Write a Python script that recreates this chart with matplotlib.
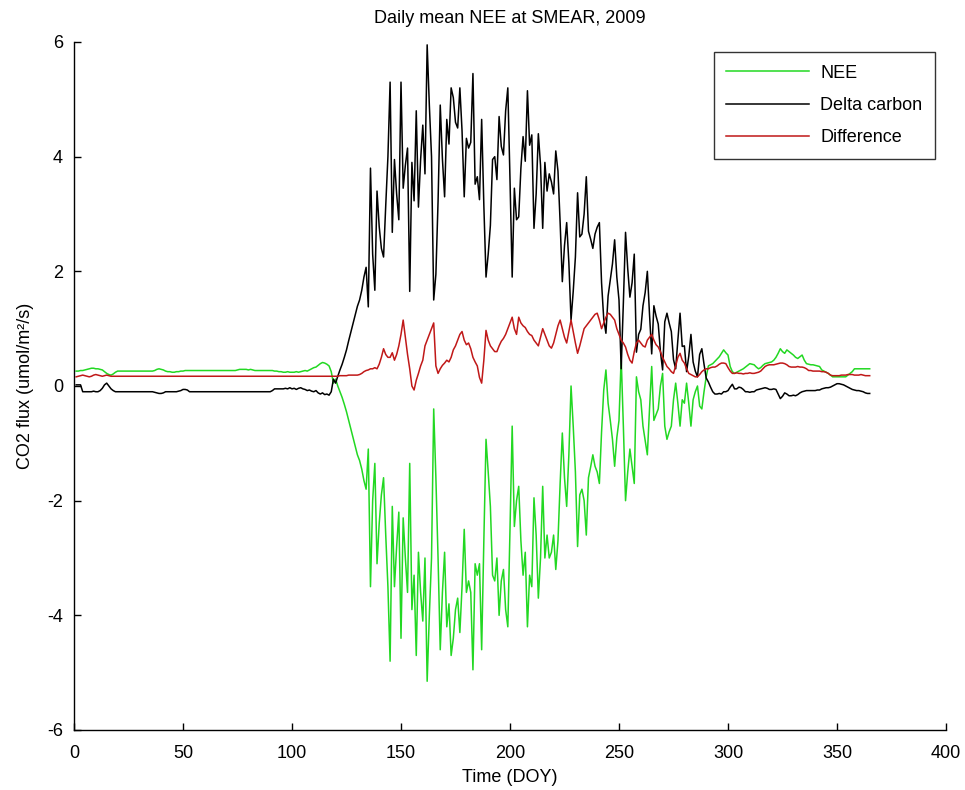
import numpy as np
import matplotlib
matplotlib.use("Agg")
import matplotlib.pyplot as plt

# ---------------- data (daily values, DOY 1..365) ----------------
nee = [
    0.26, 0.26, 0.27, 0.27, 0.28, 0.29, 0.30, 0.31, 0.31, 0.30,
    0.30, 0.29, 0.28, 0.25, 0.22, 0.20, 0.19, 0.21, 0.24, 0.26,
    0.26, 0.26, 0.26, 0.26, 0.26, 0.26, 0.26, 0.26, 0.26, 0.26,
    0.26, 0.26, 0.26, 0.26, 0.26, 0.26, 0.27, 0.29, 0.30, 0.29,
    0.28, 0.26, 0.25, 0.25, 0.24, 0.24, 0.25, 0.25, 0.26, 0.26,
    0.27, 0.27, 0.27, 0.27, 0.27, 0.27, 0.27, 0.27, 0.27, 0.27,
    0.27, 0.27, 0.27, 0.27, 0.27, 0.27, 0.27, 0.27, 0.27, 0.27,
    0.27, 0.27, 0.27, 0.27, 0.28, 0.29, 0.29, 0.29, 0.29, 0.28,
    0.29, 0.28, 0.27, 0.27, 0.27, 0.27, 0.27, 0.27, 0.27, 0.27,
    0.27, 0.26, 0.26, 0.25, 0.25, 0.24, 0.24, 0.25, 0.24, 0.24,
    0.24, 0.25, 0.24, 0.25, 0.26, 0.27, 0.26, 0.28, 0.30, 0.32,
    0.33, 0.36, 0.39, 0.41, 0.40, 0.38, 0.35, 0.25, 0.05, 0.12,
    0.00, -0.10, -0.20, -0.32, -0.45, -0.60, -0.75, -0.90, -1.05, -1.20,
    -1.30, -1.45, -1.65, -1.80, -1.10, -3.50, -2.00, -1.35, -3.10, -2.40,
    -1.90, -1.60, -2.60, -3.50, -4.80, -2.10, -3.50, -2.80, -2.20, -4.40,
    -2.30, -3.00, -3.60, -1.35, -3.90, -3.30, -4.70, -2.90, -3.60, -4.10,
    -3.00, -5.15, -4.00, -3.00, -0.40, -1.60, -3.00, -4.60, -3.60, -2.90,
    -4.20, -3.80, -4.70, -4.40, -3.90, -3.70, -4.30, -3.50, -2.50, -3.60,
    -3.40, -3.60, -4.95, -3.10, -3.30, -3.10, -4.60, -2.70, -0.93, -1.50,
    -2.10, -3.30, -3.40, -3.00, -4.00, -3.40, -3.20, -3.90, -4.20, -2.50,
    -0.70, -2.45, -2.00, -1.75, -2.70, -3.30, -2.90, -4.20, -3.30, -3.50,
    -1.95, -2.60, -3.70, -3.00, -1.75, -3.00, -2.60, -3.00, -2.90, -2.60,
    -3.20, -2.70, -1.70, -0.82, -1.60, -2.10, -1.20, 0.00, -0.70, -1.50,
    -2.80, -1.90, -1.80, -2.00, -2.60, -1.60, -1.41, -1.20, -1.40, -1.50,
    -1.70, -0.80, -0.07, 0.28, -0.30, -0.60, -0.93, -1.40, -0.90, -0.60,
    0.50, -0.70, -2.00, -1.50, -1.10, -1.40, -1.70, 0.16, -0.10, -0.24,
    -0.70, -0.95, -1.20, -0.40, 0.34, -0.60, -0.50, -0.40, 0.00, 0.22,
    -0.70, -0.93, -0.80, -0.70, -0.24, 0.05, -0.30, -0.70, -0.24, -0.30,
    0.05, -0.30, -0.70, -0.24, -0.10, 0.00, -0.35, -0.40, -0.10, 0.16,
    0.35, 0.37, 0.39, 0.43, 0.47, 0.51, 0.57, 0.63, 0.58, 0.54,
    0.34, 0.25, 0.22, 0.24, 0.26, 0.28, 0.30, 0.33, 0.36, 0.39,
    0.38, 0.37, 0.33, 0.30, 0.32, 0.36, 0.39, 0.40, 0.41, 0.42,
    0.45, 0.50, 0.57, 0.65, 0.60, 0.57, 0.63, 0.60, 0.57, 0.54,
    0.50, 0.48, 0.51, 0.54, 0.45, 0.39, 0.38, 0.37, 0.37, 0.36,
    0.35, 0.34, 0.28, 0.26, 0.24, 0.22, 0.19, 0.16, 0.16, 0.16,
    0.16, 0.16, 0.16, 0.16, 0.19, 0.22, 0.25, 0.30, 0.30, 0.30,
    0.30, 0.30, 0.30, 0.30, 0.30,
]

delta_carbon = [
    0.02, 0.02, 0.02, -0.10, -0.10, -0.10, -0.10, -0.10, -0.09, -0.10,
    -0.10, -0.08, -0.04, 0.02, 0.05, 0.00, -0.05, -0.08, -0.10, -0.10,
    -0.10, -0.10, -0.10, -0.10, -0.10, -0.10, -0.10, -0.10, -0.10, -0.10,
    -0.10, -0.10, -0.10, -0.10, -0.10, -0.10, -0.11, -0.12, -0.13, -0.13,
    -0.12, -0.10, -0.10, -0.10, -0.10, -0.10, -0.10, -0.09, -0.08, -0.06,
    -0.06, -0.07, -0.10, -0.10, -0.10, -0.10, -0.10, -0.10, -0.10, -0.10,
    -0.10, -0.10, -0.10, -0.10, -0.10, -0.10, -0.10, -0.10, -0.10, -0.10,
    -0.10, -0.10, -0.10, -0.10, -0.10, -0.10, -0.10, -0.10, -0.10, -0.10,
    -0.10, -0.10, -0.10, -0.10, -0.10, -0.10, -0.10, -0.10, -0.10, -0.10,
    -0.08, -0.05, -0.05, -0.05, -0.05, -0.05, -0.04, -0.05, -0.03, -0.05,
    -0.04, -0.06, -0.04, -0.03, -0.05, -0.06, -0.08, -0.07, -0.09, -0.10,
    -0.08, -0.12, -0.14, -0.12, -0.15, -0.14, -0.16, -0.10, 0.12, 0.05,
    0.17, 0.28, 0.38, 0.50, 0.63, 0.79, 0.94, 1.09, 1.24, 1.39,
    1.50, 1.67, 1.90, 2.07, 1.38, 3.80, 2.30, 1.67, 3.40, 2.78,
    2.40, 2.25, 3.15, 4.00, 5.30, 2.68, 3.95, 3.35, 2.90, 5.30,
    3.45, 3.85, 4.15, 1.65, 3.90, 3.23, 4.80, 3.12, 3.95, 4.55,
    3.70, 5.95, 4.90, 4.00, 1.50, 1.95, 3.22, 4.90, 3.96, 3.30,
    4.65, 4.22, 5.20, 5.03, 4.60, 4.50, 5.20, 4.45, 3.30, 4.32,
    4.15, 4.25, 5.45, 3.52, 3.65, 3.25, 4.65, 3.15, 1.90, 2.30,
    2.80, 3.95, 4.00, 3.60, 4.70, 4.18, 4.03, 4.80, 5.20, 3.60,
    1.90, 3.45, 2.90, 2.95, 3.80, 4.35, 3.92, 5.15, 4.20, 4.38,
    2.75, 3.35, 4.40, 3.85, 2.75, 3.90, 3.40, 3.70, 3.56, 3.35,
    4.10, 3.75, 2.85, 1.82, 2.45, 2.85, 2.15, 1.15, 1.65, 2.25,
    3.37, 2.60, 2.65, 3.00, 3.65, 2.70, 2.56, 2.40, 2.65, 2.77,
    2.85, 1.80, 1.17, 0.92, 1.57, 1.85, 2.13, 2.55, 1.90, 1.50,
    0.30, 1.45, 2.68, 2.05, 1.55, 1.80, 2.30, 0.59, 0.90, 0.99,
    1.40, 1.63, 2.00, 1.25, 0.56, 1.40, 1.22, 1.08, 0.60, 0.28,
    1.12, 1.27, 1.10, 0.95, 0.46, 0.30, 0.80, 1.27, 0.69, 0.70,
    0.25, 0.52, 0.90, 0.42, 0.26, 0.16, 0.55, 0.65, 0.38, 0.14,
    0.07, -0.02, -0.10, -0.14, -0.14, -0.13, -0.14, -0.10, -0.10, -0.08,
    -0.02, 0.03, -0.05, -0.05, -0.02, -0.03, -0.06, -0.10, -0.10, -0.11,
    -0.10, -0.10, -0.07, -0.06, -0.05, -0.04, -0.03, -0.04, -0.06, -0.06,
    -0.05, -0.06, -0.14, -0.22, -0.18, -0.12, -0.14, -0.17, -0.17, -0.16,
    -0.17, -0.15, -0.12, -0.10, -0.09, -0.08, -0.08, -0.08, -0.08, -0.08,
    -0.07, -0.07, -0.05, -0.04, -0.03, -0.03, -0.02, 0.00, 0.02, 0.04,
    0.04, 0.03, 0.02, 0.00, -0.02, -0.04, -0.06, -0.07, -0.08, -0.08,
    -0.09, -0.10, -0.12, -0.13, -0.13,
]

difference = [
    0.16, 0.17, 0.18, 0.19, 0.18, 0.17, 0.16, 0.17, 0.19, 0.20,
    0.19, 0.18, 0.17, 0.18, 0.19, 0.18, 0.17, 0.17, 0.17, 0.17,
    0.17, 0.17, 0.17, 0.17, 0.17, 0.17, 0.17, 0.17, 0.17, 0.17,
    0.17, 0.17, 0.17, 0.17, 0.17, 0.17, 0.17, 0.17, 0.17, 0.17,
    0.17, 0.17, 0.17, 0.17, 0.17, 0.17, 0.17, 0.17, 0.17, 0.17,
    0.17, 0.17, 0.17, 0.17, 0.17, 0.17, 0.17, 0.17, 0.17, 0.17,
    0.17, 0.17, 0.17, 0.17, 0.17, 0.17, 0.17, 0.17, 0.17, 0.17,
    0.17, 0.17, 0.17, 0.17, 0.17, 0.17, 0.17, 0.17, 0.17, 0.17,
    0.17, 0.17, 0.17, 0.17, 0.17, 0.17, 0.17, 0.17, 0.17, 0.17,
    0.17, 0.17, 0.17, 0.17, 0.17, 0.17, 0.17, 0.17, 0.17, 0.17,
    0.17, 0.17, 0.17, 0.17, 0.17, 0.17, 0.17, 0.17, 0.17, 0.17,
    0.17, 0.17, 0.17, 0.17, 0.17, 0.17, 0.17, 0.17, 0.17, 0.17,
    0.17, 0.18, 0.18, 0.18, 0.18, 0.19, 0.19, 0.19, 0.19, 0.19,
    0.20, 0.22, 0.25, 0.27, 0.28, 0.30, 0.30, 0.32, 0.30, 0.38,
    0.50, 0.65, 0.55, 0.50, 0.50, 0.58, 0.45, 0.55, 0.70, 0.90,
    1.15, 0.85, 0.55, 0.30, 0.00, -0.07, 0.10, 0.22, 0.35, 0.45,
    0.70, 0.80, 0.90, 1.00, 1.10, 0.35, 0.22, 0.30, 0.36, 0.40,
    0.45, 0.42, 0.50, 0.63, 0.70, 0.80, 0.90, 0.95, 0.80, 0.72,
    0.75, 0.65, 0.50, 0.42, 0.35, 0.15, 0.05, 0.45, 0.97, 0.80,
    0.70, 0.65, 0.60, 0.60, 0.70, 0.78, 0.83, 0.90, 1.00, 1.10,
    1.20, 1.00, 0.90, 1.20, 1.10, 1.05, 1.02, 0.95, 0.90, 0.88,
    0.80, 0.75, 0.70, 0.85, 1.00, 0.90, 0.80, 0.70, 0.66, 0.75,
    0.90, 1.05, 1.15, 1.00, 0.85, 0.75, 0.95, 1.15, 0.95, 0.75,
    0.57, 0.70, 0.85, 1.00, 1.05, 1.10, 1.15, 1.20, 1.25, 1.27,
    1.15, 1.00, 1.10, 1.20, 1.27, 1.25, 1.20, 1.15, 1.00, 0.90,
    0.80, 0.75, 0.68, 0.55, 0.45, 0.40, 0.60, 0.75, 0.80, 0.75,
    0.70, 0.68, 0.80, 0.85, 0.90, 0.80, 0.72, 0.68, 0.60, 0.50,
    0.42, 0.34, 0.30, 0.25, 0.22, 0.35, 0.50, 0.57, 0.45, 0.40,
    0.30, 0.22, 0.20, 0.18, 0.16, 0.16, 0.20, 0.25, 0.28, 0.30,
    0.30, 0.32, 0.33, 0.33, 0.35, 0.38, 0.40, 0.40, 0.39, 0.32,
    0.26, 0.22, 0.22, 0.23, 0.22, 0.22, 0.21, 0.22, 0.22, 0.23,
    0.22, 0.22, 0.23, 0.24, 0.26, 0.30, 0.34, 0.36, 0.37, 0.37,
    0.37, 0.38, 0.39, 0.40, 0.40, 0.39, 0.37, 0.34, 0.33, 0.33,
    0.33, 0.34, 0.33, 0.33, 0.32, 0.30, 0.27, 0.27, 0.26, 0.26,
    0.26, 0.26, 0.25, 0.25, 0.24, 0.22, 0.19, 0.18, 0.18, 0.18,
    0.18, 0.19, 0.19, 0.19, 0.20, 0.20, 0.20, 0.19, 0.19, 0.19,
    0.20, 0.19, 0.18, 0.18, 0.18,
]

series_labels = ["NEE", "Delta carbon", "Difference"]
x_ticks = [0, 50, 100, 150, 200, 250, 300, 350, 400]
y_ticks = [-6, -4, -2, 0, 2, 4, 6]

# ---------------- figure ----------------
plt.rcParams['font.family'] = ['Liberation Sans', 'DejaVu Sans']
plt.rcParams['axes.unicode_minus'] = False
FS = 13

fig = plt.figure(figsize=(9.65, 7.9), dpi=100)
fig.patch.set_facecolor('white')
ax = fig.add_axes([74 / 965, 60 / 790, 872 / 965, 688 / 790])

colors = ['#22d822', '#000000', '#c01818']
for vals, lab, col in zip([nee, delta_carbon, difference], series_labels, colors):
    days = np.arange(1, len(vals) + 1)
    ax.plot(days, vals, color=col, lw=1.1, label=lab)

ax.set_xlim(0, 400)
ax.set_ylim(-6, 6)
ax.set_xticks(x_ticks)
ax.set_yticks(y_ticks)
ax.tick_params(direction='in', length=5, width=1.0, labelsize=FS)
ax.tick_params(axis='x', pad=11)
ax.tick_params(axis='y', pad=8)
for s in ['top', 'right']:
    ax.spines[s].set_visible(False)
for s in ['left', 'bottom']:
    ax.spines[s].set_linewidth(1.0)

ax.set_title("Daily mean NEE at SMEAR, 2009", fontsize=FS, pad=14)
ax.set_xlabel("Time (DOY)", fontsize=FS, labelpad=5)
ax.set_ylabel("CO2 flux (umol/m\u00b2/s)", fontsize=FS, labelpad=9)

leg = ax.legend(loc='upper right', bbox_to_anchor=(935 / 965, (790 - 52) / 790),
                bbox_transform=fig.transFigure, fontsize=FS, frameon=True,
                fancybox=False, shadow=False, borderaxespad=0, borderpad=0.7,
                handlelength=4.6, handletextpad=0.6, labelspacing=0.85)
leg.get_frame().set_edgecolor('black')
leg.get_frame().set_linewidth(1.0)

fig.savefig("out.png", dpi=100)
